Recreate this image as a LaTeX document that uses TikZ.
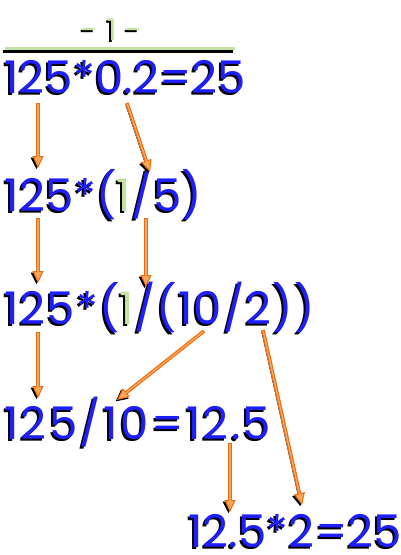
\documentclass[tikz,border=0pt]{standalone}
\usepackage{fontspec}
\setmainfont{Poppins}
\usetikzlibrary{arrows.meta, calc}
\definecolor{cblue}{HTML}{1E1EFF}
\definecolor{cgreen}{HTML}{C4E2A6}
\definecolor{corange}{HTML}{F26A10}
\definecolor{clight}{HTML}{F9A95A}
\colorlet{hilite}{cgreen}
\newcommand{\hl}[1]{\textcolor{hilite}{#1}}
\newcommand{\spread}[1]{\addfontfeature{LetterSpace=#1}}
\tikzset{
  every picture/.style={x=1pt, y=-1pt},
  eqn/.style={anchor=base west, inner sep=0pt, text=cblue, font=\fontsize{45}{48}\selectfont},
  eqnshadow/.style={eqn, text=black, execute at begin node={\colorlet{hilite}{black}}},
  flow/.style={draw=corange, line width=3.6pt,
    -{Triangle[length=12pt, width=11pt, fill=clight, line width=1pt]},
    preaction={draw=black, -{Triangle[length=12pt, width=11pt]}, transform canvas={shift={(-1.5,1.5)}}},
    postaction={draw=clight, line width=1.3pt, -, shorten >=11pt, shorten <=1pt}},
}
\begin{document}
\begin{tikzpicture}
  \useasboundingbox (0,0) rectangle (400,555);
  \newcommand{\shadowed}[3]{%
    \node[eqnshadow, shift={(-2,2)}] at (#2) {#3};
    \node[eqn] (#1) at (#2) {#3};
  }
  % ---- title
  \node[font=\fontsize{30}{32}\selectfont, text=black, anchor=base, inner sep=0pt] at (110,42) {-\hspace{9pt}1\hspace{9pt}-};
  \node[font=\fontsize{30}{32}\selectfont, text=cgreen, anchor=base, inner sep=0pt] (title) at (112,40) {-\hspace{9pt}1\hspace{9pt}-};
  \draw[black, line width=3pt] (3,51) -- (233,51);
  \draw[cgreen, line width=3pt] (5,48) -- (235,48);
  % ---- equations
  \shadowed{r1}{4,93}{\spread{0.3}125*0.2=25}
  \shadowed{r2}{4,211}{\spread{1}125*(\hl{1}/5)}
  \shadowed{r3}{4,324}{\spread{2.6}125*(\hl{1}/(10/2))}
  \shadowed{r4}{4,439}{\spread{5.3}125/10=12.5}
  \shadowed{r5}{188,547}{\spread{0.4}12.5*2=25}
  % ---- arrows
  \coordinate (a1) at (38,103);  \coordinate (a1e) at (38,168);
  \coordinate (a2) at (127,103); \coordinate (a2e) at (150,172);
  \coordinate (b1) at (38,218);  \coordinate (b1e) at (38,283);
  \coordinate (b2) at (146,218); \coordinate (b2e) at (146,287);
  \coordinate (c1) at (38,332);  \coordinate (c1e) at (38,398);
  \coordinate (c2) at (204,331); \coordinate (c2e) at (117,400);
  \coordinate (c3) at (263,330); \coordinate (c3e) at (302,505);
  \coordinate (d1) at (230,443); \coordinate (d1e) at (230,512);
  \foreach \s/\e in {a1/a1e, a2/a2e, b1/b1e, b2/b2e, c1/c1e, c2/c2e, c3/c3e, d1/d1e}
    \draw[flow] (\s) -- (\e);
\end{tikzpicture}
\end{document}
